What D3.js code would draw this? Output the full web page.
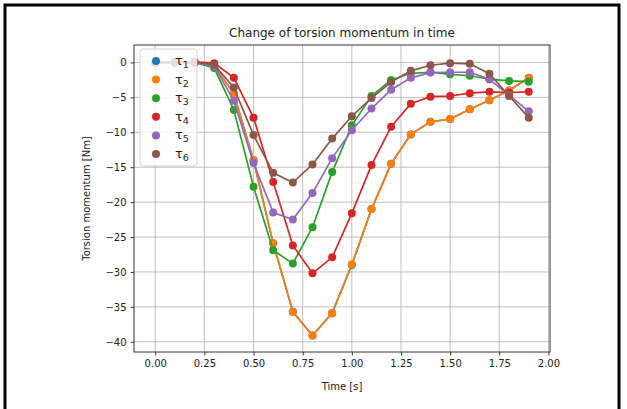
<!DOCTYPE html>
<html lang="en">
<head>
<meta charset="utf-8">
<title>Change of torsion momentum in time</title>
<script src="https://cdn.jsdelivr.net/npm/d3@7"></script>
<style>
  body { margin: 0; background: #fff; }
  svg text { font-family: "DejaVu Sans", sans-serif; fill: #222; }
  .grid line { stroke: #b0b0b0; stroke-width: 0.8; }
  .axis path { display: none; }
  .axis line { stroke: #333; }
  .axis text { font-size: 10px; }
</style>
</head>
<body>
<script>
// time samples [s]
var times = [0.0, 0.1, 0.2, 0.3, 0.4, 0.5, 0.6, 0.7, 0.8, 0.9,
             1.0, 1.1, 1.2, 1.3, 1.4, 1.5, 1.6, 1.7, 1.8, 1.9];

// torsion momentum per link [Nm]
var tau1 = [0, 0, 0, -0.4, -4.5, -14.0, -25.9, -35.7, -39.1, -35.9,
            -29.0, -21.0, -14.5, -10.3, -8.5, -8.1, -6.7, -5.4, -4.0, -2.2];
var tau2 = [0, 0, 0, -0.4, -4.5, -14.0, -25.9, -35.7, -39.1, -35.9,
            -28.9, -21.0, -14.5, -10.3, -8.5, -8.1, -6.7, -5.4, -4.0, -2.2];
var tau3 = [0, 0, 0, -0.8, -6.8, -17.8, -26.9, -28.8, -23.6, -15.7,
            -9.0, -4.8, -2.5, -1.55, -1.4, -1.7, -1.9, -2.4, -2.65, -2.75];
var tau4 = [0, 0, 0.1, -0.1, -2.2, -7.9, -17.1, -26.2, -30.2, -27.9,
            -21.6, -14.7, -9.2, -5.9, -4.9, -4.8, -4.4, -4.2, -4.3, -4.2];
var tau5 = [0, 0, 0, -0.5, -5.5, -14.4, -21.5, -22.5, -18.7, -13.7,
            -9.7, -6.6, -3.9, -2.2, -1.45, -1.4, -1.4, -2.4, -4.7, -7.0];
var tau6 = [0, 0, 0, -0.3, -3.6, -10.4, -15.8, -17.2, -14.6, -10.9,
            -7.7, -5.1, -2.8, -1.2, -0.4, -0.1, -0.2, -1.6, -4.8, -7.9];

var seriesNames = ["1", "2", "3", "4", "5", "6"];
var seriesValues = [tau1, tau2, tau3, tau4, tau5, tau6];
var colors = ["#1f77b4", "#ff7f0e", "#2ca02c", "#d62728", "#9467bd", "#8c564b"];

var xTicks = [0, 0.25, 0.5, 0.75, 1.0, 1.25, 1.5, 1.75, 2.0];
var yTicks = [0, -5, -10, -15, -20, -25, -30, -35, -40];

var W = 627, H = 409;
var pLeft = 134, pRight = 550, pTop = 45, pBottom = 352;

var svg = d3.select("body").append("svg")
    .attr("width", W)
    .attr("height", H);

// outer black frame
svg.append("rect")
    .attr("x", 5).attr("y", 5)
    .attr("width", 614).attr("height", 430)
    .attr("fill", "none")
    .attr("stroke", "#000")
    .attr("stroke-width", 3);

var x = d3.scaleLinear().domain([-0.108, 2.008]).range([pLeft, pRight]);
var y = d3.scaleLinear().domain([-41.46, 2.5]).range([pBottom, pTop]);

// grid
var grid = svg.append("g").attr("class", "grid");
grid.selectAll("line.v").data(xTicks).enter().append("line")
    .attr("class", "v")
    .attr("x1", function(d) { return x(d); })
    .attr("x2", function(d) { return x(d); })
    .attr("y1", pTop).attr("y2", pBottom);
grid.selectAll("line.h").data(yTicks).enter().append("line")
    .attr("class", "h")
    .attr("x1", pLeft).attr("x2", pRight)
    .attr("y1", function(d) { return y(d); })
    .attr("y2", function(d) { return y(d); });

var fmtY = function(d) { return d < 0 ? "\u2212" + Math.abs(d) : String(d); };

svg.append("g").attr("class", "axis")
    .attr("transform", "translate(0," + pBottom + ")")
    .call(d3.axisBottom(x).tickValues(xTicks).tickSize(3.5).tickPadding(4)
        .tickFormat(d3.format(".2f")));

svg.append("g").attr("class", "axis")
    .attr("transform", "translate(" + pLeft + ",0)")
    .call(d3.axisLeft(y).tickValues(yTicks).tickSize(3.5).tickPadding(4)
        .tickFormat(fmtY));

// lines + markers
var line = d3.line()
    .x(function(d, i) { return x(times[i]); })
    .y(function(d) { return y(d); });

seriesValues.forEach(function(vals, k) {
    var g = svg.append("g");
    g.append("path")
        .datum(vals)
        .attr("d", line)
        .attr("fill", "none")
        .attr("stroke", colors[k])
        .attr("stroke-width", 1.7);
    g.selectAll("circle").data(vals).enter().append("circle")
        .attr("cx", function(d, i) { return x(times[i]); })
        .attr("cy", function(d) { return y(d); })
        .attr("r", 4)
        .attr("fill", colors[k]);
});

// plot frame
svg.append("rect")
    .attr("x", pLeft).attr("y", pTop)
    .attr("width", pRight - pLeft).attr("height", pBottom - pTop)
    .attr("fill", "none")
    .attr("stroke", "#333")
    .attr("stroke-width", 1);

// legend
var leg = svg.append("g").attr("transform", "translate(140,49)");
leg.append("rect")
    .attr("width", 57).attr("height", 117)
    .attr("rx", 3)
    .attr("fill", "#fff").attr("fill-opacity", 0.8)
    .attr("stroke", "#ccc").attr("stroke-width", 0.8);
seriesNames.forEach(function(n, k) {
    var row = leg.append("g").attr("transform", "translate(0," + (12 + k * 18.6) + ")");
    row.append("circle").attr("cx", 16).attr("cy", 0).attr("r", 4).attr("fill", colors[k]);
    var t = row.append("text").attr("x", 35).attr("y", 4).style("font-size", "13px");
    t.append("tspan").text("\u03c4");
    t.append("tspan").attr("dy", 3).style("font-size", "9.5px").text(n);
});

// title and labels
svg.append("text")
    .attr("x", (pLeft + pRight) / 2).attr("y", 37)
    .attr("text-anchor", "middle")
    .style("font-size", "12px")
    .text("Change of torsion momentum in time");

svg.append("text")
    .attr("x", (pLeft + pRight) / 2).attr("y", 390)
    .attr("text-anchor", "middle")
    .style("font-size", "10px")
    .text("Time [s]");

svg.append("text")
    .attr("transform", "translate(90," + ((pTop + pBottom) / 2) + ") rotate(-90)")
    .attr("text-anchor", "middle")
    .style("font-size", "10px")
    .text("Torsion momentum [Nm]");
</script>
</body>
</html>
